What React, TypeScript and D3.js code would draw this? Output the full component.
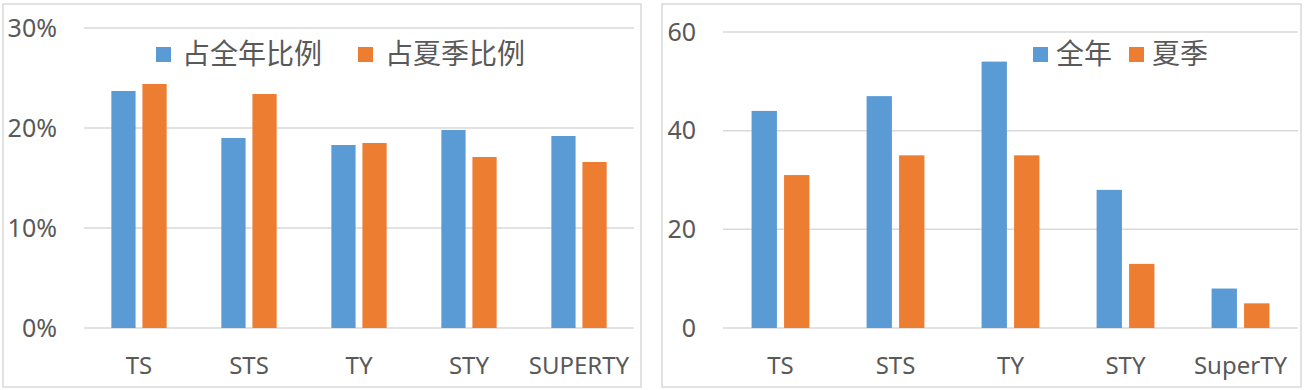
import React from 'react';
import * as d3 from 'd3';

// category labels per panel
const leftCategories = ['TS', 'STS', 'TY', 'STY', 'SUPERTY'];
const rightCategories = ['TS', 'STS', 'TY', 'STY', 'SuperTY'];

// left panel: share of yearly / summer totals
const leftSeriesNames = ['占全年比例', '占夏季比例'];
const shareYear = [0.237, 0.19, 0.183, 0.198, 0.192];
const shareSummer = [0.244, 0.234, 0.185, 0.171, 0.166];
const leftTicks = [0, 0.1, 0.2, 0.3];

// right panel: counts
const rightSeriesNames = ['全年', '夏季'];
const countYear = [44, 47, 54, 28, 8];
const countSummer = [31, 35, 35, 13, 5];
const rightTicks = [0, 20, 40, 60];

const BLUE = '#5b9bd5';
const ORANGE = '#ed7d31';
const GRID = '#d9d9d9';
const TEXT = '#595959';
const LATIN = '"Noto Sans", "Open Sans", sans-serif';
const CJK = '"Noto Sans CJK SC", "Noto Sans", sans-serif';

type PanelProps = {
    box: [number, number, number, number];
    plotX: [number, number];
    plotY: [number, number];
    yMax: number;
    ticks: number[];
    tickFormat: (v: number) => string;
    tickRight: number;
    categories: string[];
    series: number[][];
    names: string[];
    legend: { sq: number; tx: number }[];
};

const Panel = (p: PanelProps) => {
    const x0 = d3.scaleBand().domain(p.categories).range(p.plotX);
    const x1 = d3.scaleBand<number>()
        .domain([0, 1])
        .range([0, x0.bandwidth()])
        .paddingInner(0.22)
        .paddingOuter(0.88);
    const y = d3.scaleLinear().domain([0, p.yMax]).range(p.plotY);
    const colors = [BLUE, ORANGE];
    const [bx, by, bw, bh] = p.box;

    return (
        <g>
            <rect x={bx} y={by} width={bw} height={bh} fill="#fff" stroke={GRID} strokeWidth={1.5} />
            {p.ticks.map(t => (
                <g key={t}>
                    <line x1={p.plotX[0]} x2={p.plotX[1]} y1={y(t)} y2={y(t)} stroke={GRID} strokeWidth={1.5} />
                    <text x={p.tickRight} y={y(t)} dy="0.35em" textAnchor="end"
                        fontFamily={LATIN} fontSize={25} fill={TEXT}>{p.tickFormat(t)}</text>
                </g>
            ))}
            {p.categories.map((c, i) => (
                <g key={c} transform={`translate(${x0(c)},0)`}>
                    {p.series.map((s, k) => (
                        <rect key={k} x={x1(k)} y={y(s[i])} width={x1.bandwidth()}
                            height={y(0) - y(s[i])} fill={colors[k]} />
                    ))}
                    <text x={x0.bandwidth() / 2} y={374} textAnchor="middle"
                        fontFamily={LATIN} fontSize={24} fill={TEXT}>{c}</text>
                </g>
            ))}
            {p.names.map((n, k) => (
                <g key={n}>
                    <rect x={p.legend[k].sq} y={47} width={15} height={15} fill={colors[k]} />
                    <text x={p.legend[k].tx} y={54} dy="0.36em" fontFamily={CJK}
                        fontSize={28} fill={TEXT}>{n}</text>
                </g>
            ))}
        </g>
    );
};

export default function App() {
    const pct = d3.format('.0%');
    return (
        <svg width={1304} height={390} style={{ position: 'absolute', left: 0, top: 0 }}>
            <rect width={1304} height={390} fill="#fff" />
            <Panel
                box={[3, 4, 638, 383]}
                plotX={[84, 634]}
                plotY={[328, 28]}
                yMax={0.3}
                ticks={leftTicks}
                tickFormat={pct}
                tickRight={57}
                categories={leftCategories}
                series={[shareYear, shareSummer]}
                names={leftSeriesNames}
                legend={[{ sq: 156, tx: 182 }, { sq: 358, tx: 385 }]}
            />
            <Panel
                box={[662, 4, 639, 383]}
                plotX={[723, 1298]}
                plotY={[328, 32]}
                yMax={60}
                ticks={rightTicks}
                tickFormat={v => String(v)}
                tickRight={696}
                categories={rightCategories}
                series={[countYear, countSummer]}
                names={rightSeriesNames}
                legend={[{ sq: 1033, tx: 1056 }, { sq: 1129, tx: 1152 }]}
            />
        </svg>
    );
}
